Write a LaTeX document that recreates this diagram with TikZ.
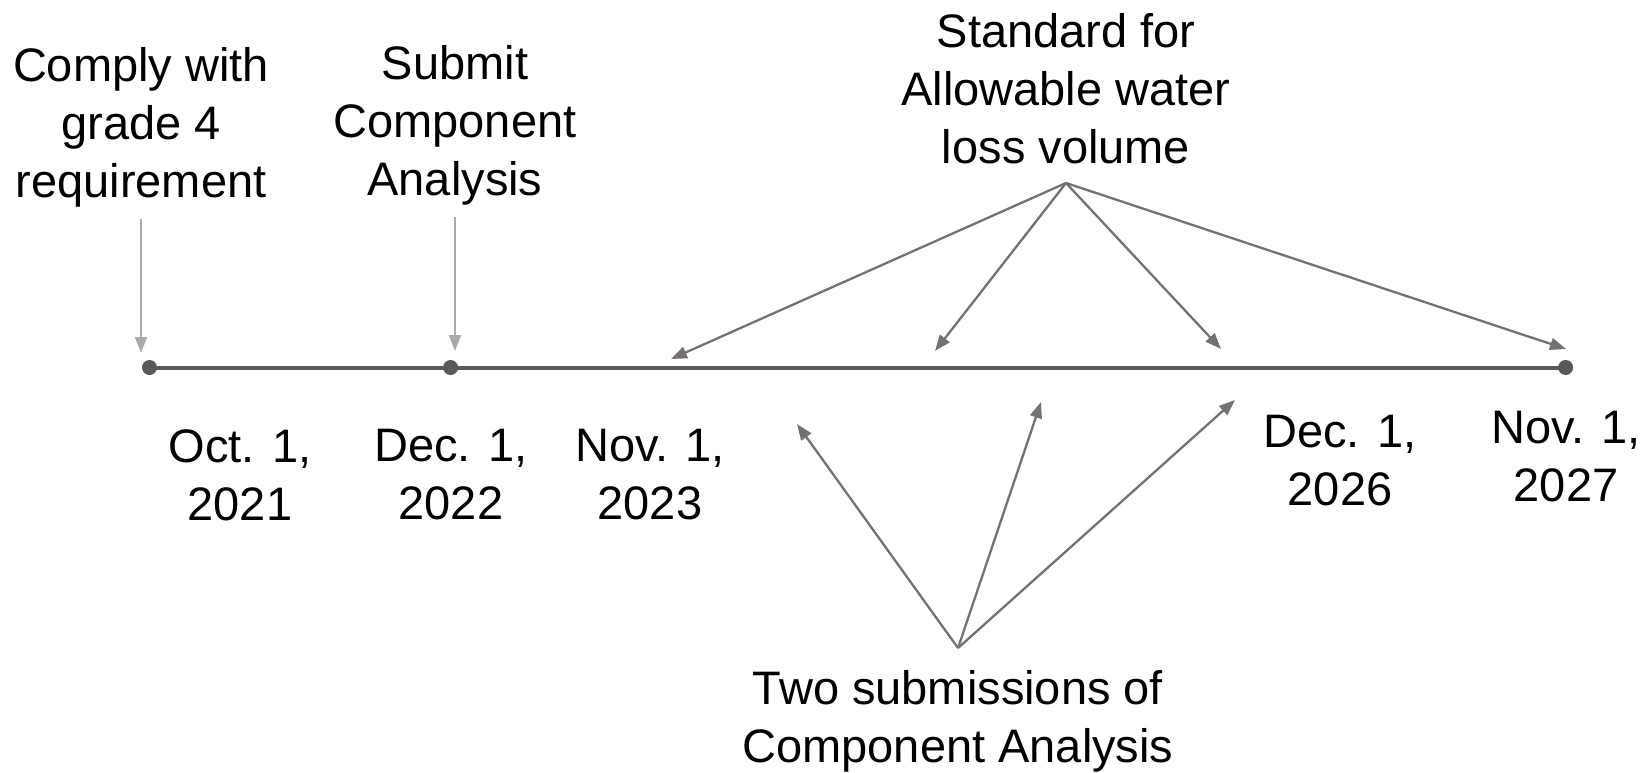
\documentclass[tikz,border=0pt]{standalone}
\usepackage{fontspec}
\setmainfont{Liberation Sans}
\usetikzlibrary{arrows.meta}
\definecolor{lineC}{HTML}{595959}
\definecolor{arrC}{HTML}{767171}
\definecolor{lightC}{HTML}{AEAAAA}
\begin{document}
\begin{tikzpicture}[x=1pt,y=-1pt,
  lbl/.style={font=\fontsize{47}{58}\selectfont, align=center, inner sep=0pt},
  dot/.style={circle, fill=lineC, inner sep=0pt, minimum size=15pt},
  darr/.style={draw=arrC, line width=2.3pt, -{Triangle[length=16pt,width=12pt]}},
  garr/.style={draw=lightC, line width=2.3pt, -{Triangle[length=16pt,width=12pt]}}]
\useasboundingbox (0,0) rectangle (1651,773);

% timeline
\node[dot] (d1) at (149.5,367.5) {};
\node[dot] (d2) at (450.6,367.5) {};
\node[dot] (d3) at (1565.6,367.5) {};
\draw[lineC, line width=4pt] (d1.center) -- (d2.center) -- (d3.center);

% labels
\node[lbl] (comply) at (141,127) {Comply with\\grade 4\\requirement};
\node[lbl] (submit) at (455,125) {Submit\\Component\\Analysis};
\node[lbl] (standard) at (1066,89) {Standard for\\Allowable water\\loss volume};
\node[lbl] (oct21) at (240,475) {Oct. 1,\\2021};
\node[lbl] (dec22) at (451,475) {Dec. 1,\\2022};
\node[lbl] (nov23) at (650,475) {Nov. 1,\\2023};
\node[lbl] (dec26) at (1340,461) {Dec. 1,\\2026};
\node[lbl] (nov27) at (1566,457) {Nov. 1,\\2027};
\node[lbl] (twosub) at (958,721) {Two submissions of\\Component Analysis};

% light arrows
\coordinate (g1s) at (141,219);
\coordinate (g1e) at (141,353);
\coordinate (g2s) at (455,217);
\coordinate (g2e) at (455,351);
\draw[garr] (g1s) -- (g1e);
\draw[garr] (g2s) -- (g2e);

% top fan
\coordinate (ta) at (1066,183);
\coordinate (t1) at (671,359);
\coordinate (t2) at (935,351);
\coordinate (t3) at (1221,349);
\coordinate (t4) at (1566,349);
\foreach \t in {t1,t2,t3,t4} \draw[darr] (ta) -- (\t);

% bottom fan
\coordinate (ba) at (958,648);
\coordinate (b1) at (797,424);
\coordinate (b2) at (1041,402);
\coordinate (b3) at (1235,400);
\foreach \b in {b1,b2,b3} \draw[darr] (ba) -- (\b);
\end{tikzpicture}
\end{document}
